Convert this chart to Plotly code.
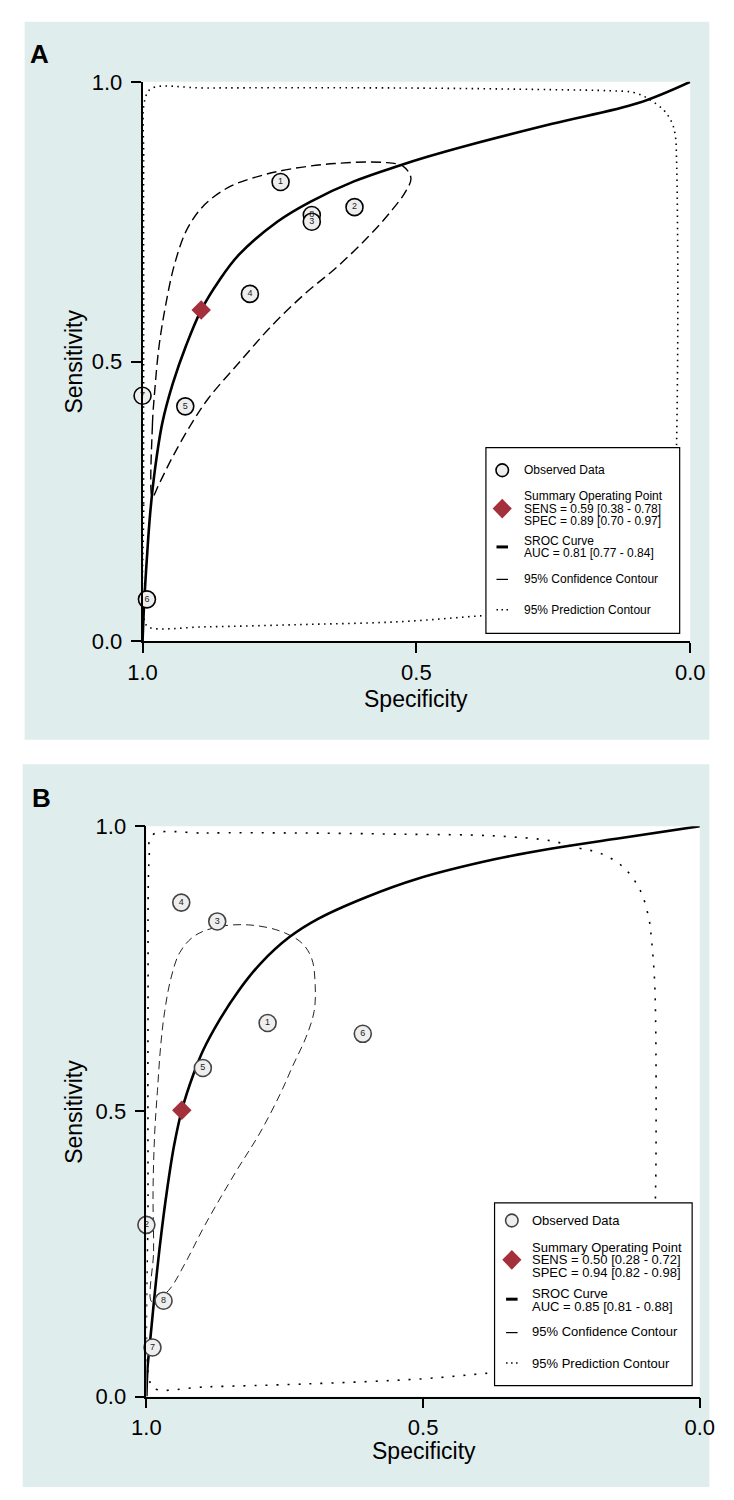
import plotly.graph_objects as go

W, H = 734, 1500
FONT = "Liberation Sans, Arial, sans-serif"

# ---------------- Panel A data ----------------
a_study = ["1", "2", "8", "3", "4", "5", "6", "7"]
a_spec = [0.748, 0.613, 0.691, 0.691, 0.804, 0.922, 0.992, 1.000]
a_sens = [0.821, 0.776, 0.762, 0.750, 0.621, 0.420, 0.075, 0.439]
a_sum_spec = [0.893]
a_sum_sens = [0.592]
a_sroc_spec = [1.000, 0.997, 0.992, 0.986, 0.977, 0.964, 0.945, 0.920, 0.893, 0.860,
               0.824, 0.754, 0.693, 0.614, 0.532, 0.480, 0.400, 0.252, 0.095, 0.000]
a_sroc_sens = [0.000, 0.070, 0.150, 0.230, 0.310, 0.390, 0.460, 0.530, 0.592, 0.645,
               0.691, 0.750, 0.786, 0.822, 0.850, 0.866, 0.888, 0.925, 0.962, 1.000]
a_conf_spec = [0.982, 0.982, 0.978, 0.970, 0.958, 0.941, 0.918, 0.886, 0.840, 0.785,
               0.731, 0.649, 0.560, 0.524, 0.510, 0.519, 0.546, 0.588, 0.645, 0.705,
               0.766, 0.824, 0.880, 0.910, 0.945, 0.970, 0.982]
a_conf_sens = [0.258, 0.387, 0.445, 0.527, 0.600, 0.676, 0.738, 0.781, 0.813, 0.832,
               0.844, 0.854, 0.856, 0.849, 0.828, 0.805, 0.769, 0.723, 0.669, 0.620,
               0.562, 0.498, 0.434, 0.390, 0.330, 0.281, 0.258]
a_pred_spec = [0.996, 0.998, 0.998, 0.998, 0.996, 0.984, 0.883, 0.532, 0.252, 0.147,
               0.103, 0.077, 0.048, 0.033, 0.027, 0.025, 0.023, 0.023, 0.025, 0.028,
               0.060, 0.147, 0.270, 0.377, 0.532, 0.708, 0.883, 0.988, 0.996]
a_pred_sens = [0.035, 0.246, 0.598, 0.861, 0.967, 0.988, 0.989, 0.989, 0.986, 0.984,
               0.981, 0.970, 0.949, 0.926, 0.902, 0.861, 0.715, 0.510, 0.351, 0.246,
               0.123, 0.070, 0.053, 0.046, 0.035, 0.030, 0.026, 0.025, 0.035]
a_legend = ["Observed Data",
            "Summary Operating Point", "SENS = 0.59 [0.38 - 0.78]", "SPEC = 0.89 [0.70 - 0.97]",
            "SROC Curve", "AUC = 0.81 [0.77 - 0.84]",
            "95% Confidence Contour", "95% Prediction Contour"]

# ---------------- Panel B data ----------------
b_study = ["1", "2", "3", "4", "5", "6", "7", "8"]
b_spec = [0.781, 1.000, 0.872, 0.937, 0.898, 0.609, 0.989, 0.969]
b_sens = [0.655, 0.301, 0.833, 0.866, 0.576, 0.636, 0.086, 0.168]
b_sum_spec = [0.936]
b_sum_sens = [0.502]
b_sroc_spec = [1.000, 0.998, 0.993, 0.985, 0.975, 0.963, 0.950, 0.936, 0.915, 0.897,
               0.868, 0.833, 0.793, 0.741, 0.689, 0.602, 0.510, 0.371, 0.267, 0.151, 0.000]
b_sroc_sens = [0.000, 0.050, 0.100, 0.180, 0.270, 0.360, 0.440, 0.502, 0.565, 0.608,
               0.660, 0.712, 0.760, 0.806, 0.838, 0.876, 0.908, 0.942, 0.961, 0.978, 1.000]
b_conf_spec = [0.990, 0.987, 0.988, 0.985, 0.980, 0.974, 0.967, 0.956, 0.940, 0.914,
               0.873, 0.816, 0.758, 0.719, 0.701, 0.695, 0.697, 0.712, 0.734, 0.758,
               0.795, 0.839, 0.894, 0.931, 0.960, 0.990]
b_conf_sens = [0.166, 0.255, 0.359, 0.462, 0.537, 0.617, 0.675, 0.732, 0.778, 0.807,
               0.823, 0.827, 0.816, 0.795, 0.767, 0.721, 0.675, 0.629, 0.583, 0.531,
               0.462, 0.393, 0.301, 0.232, 0.186, 0.166]
b_pred_spec = [0.990, 0.891, 0.718, 0.544, 0.371, 0.267, 0.221, 0.181, 0.139, 0.108,
               0.092, 0.087, 0.082, 0.080, 0.079, 0.080, 0.085, 0.111, 0.198, 0.302,
               0.383, 0.503, 0.714, 0.891, 0.986, 0.995, 0.997, 0.997, 0.995, 0.990]
b_pred_sens = [0.984, 0.988, 0.988, 0.986, 0.983, 0.974, 0.962, 0.953, 0.929, 0.888,
               0.838, 0.798, 0.734, 0.669, 0.531, 0.359, 0.221, 0.117, 0.066, 0.048,
               0.041, 0.031, 0.022, 0.017, 0.014, 0.031, 0.359, 0.703, 0.945, 0.984]
b_legend = ["Observed Data",
            "Summary Operating Point", "SENS = 0.50 [0.28 - 0.72]", "SPEC = 0.94 [0.82 - 0.98]",
            "SROC Curve", "AUC = 0.85 [0.81 - 0.88]",
            "95% Confidence Contour", "95% Prediction Contour"]

tick_vals = [0.0, 0.5, 1.0]
tick_text = ["0.0", "0.5", "1.0"]
DIAMOND = "#a3303a"


def PX(x):
    return x / W


def PY(y):
    return 1 - y / H


fig = go.Figure()


def add_panel(xa, ya, study, spec, sens, sum_spec, sum_sens, sroc_x, sroc_y,
              conf_x, conf_y, pred_x, pred_y, dark, pred_dash, conf_dash, conf_w, conf_col):
    common = dict(xaxis=xa, yaxis=ya, showlegend=False, hoverinfo="skip", cliponaxis=False)
    fig.add_trace(go.Scatter(x=pred_x, y=pred_y, mode="lines", line_shape="spline",
                             line=dict(color="black", width=1.6, dash=pred_dash), **common))
    fig.add_trace(go.Scatter(x=conf_x, y=conf_y, mode="lines", line_shape="spline",
                             line=dict(color=conf_col, width=conf_w, dash=conf_dash), **common))
    fig.add_trace(go.Scatter(x=sroc_x, y=sroc_y, mode="lines", line_shape="spline",
                             line=dict(color="black", width=2.6), **common))
    fig.add_trace(go.Scatter(x=spec, y=sens, mode="markers+text", text=study,
                             textposition="middle center",
                             textfont=dict(family=FONT, size=9, color="#222"),
                             marker=dict(size=17, color="#eeeeee",
                                         line=dict(color=dark, width=1.6)), **common))
    fig.add_trace(go.Scatter(x=sum_spec, y=sum_sens, mode="markers",
                             marker=dict(symbol="diamond", size=15, color=DIAMOND,
                                         line=dict(width=0)), **common))


add_panel("x", "y", a_study, a_spec, a_sens, a_sum_spec, a_sum_sens, a_sroc_spec, a_sroc_sens,
          a_conf_spec, a_conf_sens, a_pred_spec, a_pred_sens, "black",
          "1.5px,4.5px", "10px,5px", 1.4, "black")
add_panel("x2", "y2", b_study, b_spec, b_sens, b_sum_spec, b_sum_sens, b_sroc_spec, b_sroc_sens,
          b_conf_spec, b_conf_sens, b_pred_spec, b_pred_sens, "#444444",
          "2px,9px", "8px,5px", 1.0, "#222222")

axis_common = dict(tickvals=tick_vals, ticktext=tick_text, ticks="outside", ticklen=10,
                   tickwidth=1.5, tickcolor="black", showline=True, linecolor="black",
                   linewidth=1.6, showgrid=False, zeroline=False, fixedrange=True,
                   tickfont=dict(family=FONT, size=22, color="black"))

fig.update_layout(
    width=W, height=H, margin=dict(l=0, r=0, t=0, b=0),
    paper_bgcolor="white", plot_bgcolor="rgba(0,0,0,0)", showlegend=False,
    xaxis=dict(domain=[PX(133), PX(704)], range=[1, 0], anchor="y", ticklabelstandoff=0, **axis_common),
    yaxis=dict(domain=[PY(640), PY(71)], range=[0, 1], anchor="x", ticklabelstandoff=4, **axis_common),
    xaxis2=dict(domain=[PX(137), PX(714)], range=[1, 0], anchor="y2", ticklabelstandoff=0, **axis_common),
    yaxis2=dict(domain=[PY(1408), PY(828)], range=[0, 1], anchor="x2", ticklabelstandoff=4, **axis_common),
)

shapes = []
annots = []
BG = "#e0eded"
# panel backgrounds and white plot areas
shapes.append(dict(type="rect", xref="paper", yref="paper", x0=PX(10), x1=PX(724), y0=PY(740), y1=PY(10),
                   fillcolor=BG, line=dict(width=0), layer="below"))
shapes.append(dict(type="rect", xref="paper", yref="paper", x0=PX(133), x1=PX(704), y0=PY(640), y1=PY(71),
                   fillcolor="white", line=dict(width=0), layer="below"))
shapes.append(dict(type="rect", xref="paper", yref="paper", x0=PX(8), x1=PX(724), y0=PY(1500), y1=PY(765),
                   fillcolor=BG, line=dict(width=0), layer="below"))
shapes.append(dict(type="rect", xref="paper", yref="paper", x0=PX(137), x1=PX(714), y0=PY(1408), y1=PY(828),
                   fillcolor="white", line=dict(width=0), layer="below"))


def text(x, y, s, size, bold=False, angle=0, anchor="center", color="black"):
    annots.append(dict(x=PX(x), y=PY(y), xref="paper", yref="paper", text=("<b>%s</b>" % s) if bold else s,
                       showarrow=False, xanchor=anchor, yanchor="middle", textangle=angle,
                       font=dict(family=FONT, size=size, color=color)))


# panel letters and axis titles
text(26, 43, "A", 26, bold=True)
text(28, 799, "B", 26, bold=True)
text(62, 355, "Sensitivity", 23, angle=-90)
text(418, 699, "Specificity", 23)
text(62, 1118, "Sensitivity", 23, angle=-90)
text(426, 1463, "Specificity", 23)


def legend(box, ix, tx, ys, labels, size, circ_line):
    x0, y0, x1, y1 = box
    shapes.append(dict(type="rect", xref="paper", yref="paper", x0=PX(x0), x1=PX(x1), y0=PY(y1), y1=PY(y0),
                       fillcolor="white", line=dict(color="black", width=1.2), layer="above"))
    yo, ys_, ysr, yc, yp = ys["obs"], ys["sum"], ys["sroc"], ys["conf"], ys["pred"]
    shapes.append(dict(type="circle", xref="paper", yref="paper", x0=PX(ix - 6.5), x1=PX(ix + 6.5),
                       y0=PY(yo + 6.5), y1=PY(yo - 6.5), fillcolor="#eeeeee",
                       line=dict(color=circ_line, width=1.6), layer="above"))
    d = 10
    path = "M %f %f L %f %f L %f %f L %f %f Z" % (PX(ix - d), PY(ys_), PX(ix), PY(ys_ - d),
                                                  PX(ix + d), PY(ys_), PX(ix), PY(ys_ + d))
    shapes.append(dict(type="path", xref="paper", yref="paper", path=path, fillcolor=DIAMOND,
                       line=dict(width=0), layer="above"))
    shapes.append(dict(type="line", xref="paper", yref="paper", x0=PX(ix - 6), x1=PX(ix + 6),
                       y0=PY(ysr), y1=PY(ysr), line=dict(color="black", width=3), layer="above"))
    shapes.append(dict(type="line", xref="paper", yref="paper", x0=PX(ix - 6), x1=PX(ix + 6),
                       y0=PY(yc), y1=PY(yc), line=dict(color="black", width=1.2), layer="above"))
    shapes.append(dict(type="line", xref="paper", yref="paper", x0=PX(ix - 6), x1=PX(ix + 6),
                       y0=PY(yp), y1=PY(yp), line=dict(color="black", width=1.5, dash="1.5px,3.5px"),
                       layer="above"))
    for lab, y in zip(labels, ys["text"]):
        text(tx, y, lab, size, anchor="left")


legend((491, 443, 693, 632), 508, 529,
       dict(obs=466, sum=505, sroc=544, conf=577, pred=608,
            text=[466, 492, 505, 518, 538, 550, 577, 608]),
       a_legend, 12, "black")
legend((500, 1211, 706, 1397), 518, 537,
       dict(obs=1229, sum=1269, sroc=1309, conf=1343, pred=1374,
            text=[1229, 1256.5, 1269, 1281.5, 1303.5, 1316, 1342, 1374]),
       b_legend, 13, "#444444")

fig.update_layout(shapes=shapes, annotations=annots)
fig.write_html("out.html", config={"displayModeBar": False},
               post_script="document.body.style.margin='0';")
